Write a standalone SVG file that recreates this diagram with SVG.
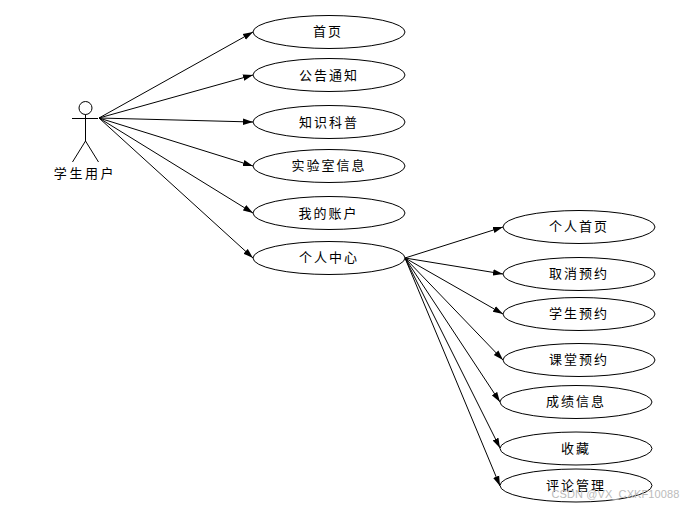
<svg xmlns="http://www.w3.org/2000/svg" width="691" height="508" viewBox="0 0 691 508">
<style>
.n ellipse{fill:#fff;stroke:#000;stroke-width:1}
text{font-family:"Noto Sans CJK SC","Liberation Sans",sans-serif;font-size:13px;letter-spacing:2px;fill:#000;text-anchor:middle}
.c line{stroke:#000;stroke-width:1;marker-end:url(#a)}
.s{stroke:#000;stroke-width:1;fill:none}
.w{fill:#bbb;font-size:11px;letter-spacing:.1px;font-family:"Liberation Sans",sans-serif}
</style>
<defs><marker id="a" markerUnits="userSpaceOnUse" markerWidth="11" markerHeight="8" refX="10" refY="4" orient="auto"><path d="M0 0.800L10 4L0 7.200Z" fill="#000"/></marker></defs>
<rect width="691" height="508" fill="#fff"/>
<g id="actor">
<circle class="s" cx="85.500" cy="108" r="6.500"/>
<path class="s" d="M85.500 114.500V141M72 118.500H98M85.500 141L72.500 162M85.500 141L98.500 162"/>
<text x="85" y="178" style="letter-spacing:2.600px">学生用户</text>
</g>
<g class="c" id="connectors">
<line x1="99" y1="118" x2="253" y2="32"/>
<line x1="99" y1="118" x2="253" y2="75"/>
<line x1="99" y1="118" x2="253" y2="122"/>
<line x1="99" y1="118" x2="253" y2="166"/>
<line x1="99" y1="118" x2="253" y2="213"/>
<line x1="99" y1="118" x2="253" y2="258"/>
<line x1="405" y1="258" x2="503" y2="227"/>
<line x1="405" y1="258" x2="503" y2="274"/>
<line x1="405" y1="258" x2="503" y2="314"/>
<line x1="405" y1="258" x2="503" y2="360"/>
<line x1="405" y1="258" x2="500" y2="402"/>
<line x1="405" y1="258" x2="500" y2="448"/>
<line x1="405" y1="258" x2="500" y2="486"/>
</g>
<g class="n" id="n1"><ellipse cx="329" cy="32" rx="76" ry="16.500"/><text x="328" y="36">首页</text></g>
<g class="n" id="n2"><ellipse cx="329" cy="75" rx="76" ry="16.500"/><text x="329" y="80">公告通知</text></g>
<g class="n" id="n3"><ellipse cx="329" cy="122" rx="76" ry="16.500"/><text x="329" y="127">知识科普</text></g>
<g class="n" id="n4"><ellipse cx="329" cy="166" rx="76" ry="16.500"/><text x="329" y="170">实验室信息</text></g>
<g class="n" id="n5"><ellipse cx="329" cy="213" rx="76" ry="16.500"/><text x="328.500" y="218">我的账户</text></g>
<g class="n" id="n6"><ellipse cx="329" cy="258" rx="76" ry="16.500"/><text x="329" y="262">个人中心</text></g>
<g class="n" id="m1"><ellipse cx="579" cy="227" rx="76" ry="16.500"/><text x="579" y="231">个人首页</text></g>
<g class="n" id="m2"><ellipse cx="579" cy="274" rx="76" ry="16.500"/><text x="579" y="278">取消预约</text></g>
<g class="n" id="m3"><ellipse cx="579" cy="314" rx="76" ry="16.500"/><text x="579" y="318">学生预约</text></g>
<g class="n" id="m4"><ellipse cx="579" cy="360" rx="76" ry="16.500"/><text x="579" y="364">课堂预约</text></g>
<g class="n" id="m5"><ellipse cx="576" cy="402" rx="76" ry="16.500"/><text x="576" y="406">成绩信息</text></g>
<g class="n" id="m6"><ellipse cx="576" cy="448.500" rx="76" ry="16.500"/><text x="576" y="453">收藏</text></g>
<g class="n" id="m7"><ellipse cx="576" cy="485.500" rx="76" ry="16.500"/><text x="576" y="490">评论管理</text></g>
<text class="w" x="615.500" y="498">CSDN @VX_CXKF10088</text>
</svg>
